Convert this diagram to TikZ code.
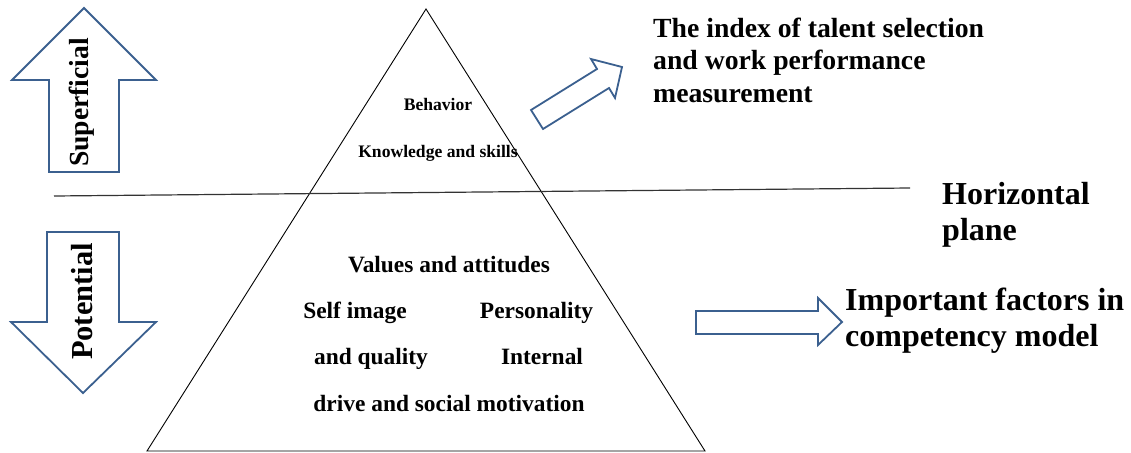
\documentclass[tikz,border=0pt]{standalone}
\usepackage{fontspec}
\setmainfont{Liberation Serif}
\definecolor{arrowblue}{RGB}{59,96,143}

\begin{document}
\begin{tikzpicture}[x=1pt,y=-1pt,
  blockarrow/.style={draw=arrowblue,line width=1.8pt,line join=miter,fill=white},
  inner/.style={font=\bfseries\fontsize{17.6}{21}\selectfont,inner sep=0pt,anchor=base},
  factor/.style={font=\bfseries\fontsize{23.4}{28}\selectfont,inner sep=0pt,anchor=base},
  note/.style={font=\bfseries\fontsize{27.7}{32.5}\selectfont,inner sep=0pt,align=left,anchor=base west},
  bignote/.style={font=\bfseries\fontsize{32}{35.5}\selectfont,inner sep=0pt,align=left,anchor=base west}]
 \useasboundingbox (0,0) rectangle (1131,452);
 \draw[blockarrow] (84,8)--(156,80)--(119,80)--(119,172)--(49,172)--(49,80)--(12,80)--cycle; %上向き矢印
 \node[rotate=90,anchor=base,inner sep=0pt,font=\bfseries\fontsize{27.6}{30}\selectfont] (sup) at (88,102.5) {Superficial};
 \draw[blockarrow] (47,232)--(119,232)--(119,322)--(156,322)--(83,393)--(11,322)--(47,322)--cycle; %下向き矢印
 \node[rotate=90,anchor=base,inner sep=0pt,font=\bfseries\fontsize{30.5}{33}\selectfont] (pot) at (92,301.5) {Potential};
 \draw[line width=0.9pt] (147,451)--(426,9)--(705,451)--cycle; %三角形
 \draw[black!80,line width=1.2pt] (54,196)--(910,188); %水平面
 \node[inner] (beh) at (438,110) {Behavior};
 \node[inner] (kns) at (438,157) {Knowledge and skills};
 \node[factor] (val) at (449,272) {Values and attitudes};
 \node[factor] (self) at (355,318) {Self image};
 \node[factor] (pers) at (536.5,318) {Personality};
 \node[factor] (qual) at (371,364) {and quality};
 \node[factor] (intl) at (542,364) {Internal};
 \node[factor] (drv) at (449,411) {drive and social motivation};
 \draw[blockarrow] (531,110)--(597,69)--(591,59)--(622,67)--(615,98)--(609,88)--(543,129)--cycle; %斜め矢印
 \draw[blockarrow] (696,311)--(818,311)--(818,298)--(842,322)--(818,345)--(818,334)--(696,334)--cycle; %右向き矢印
 \node[note] (idx) at (653,102) {The index of talent selection\\and work performance\\measurement}; %最終行の基線
 \node[bignote] (hor) at (942,240) {Horizontal\\plane};
 \node[bignote] (imp) at (845,346) {Important factors in\\competency model};
\end{tikzpicture}
\end{document}
